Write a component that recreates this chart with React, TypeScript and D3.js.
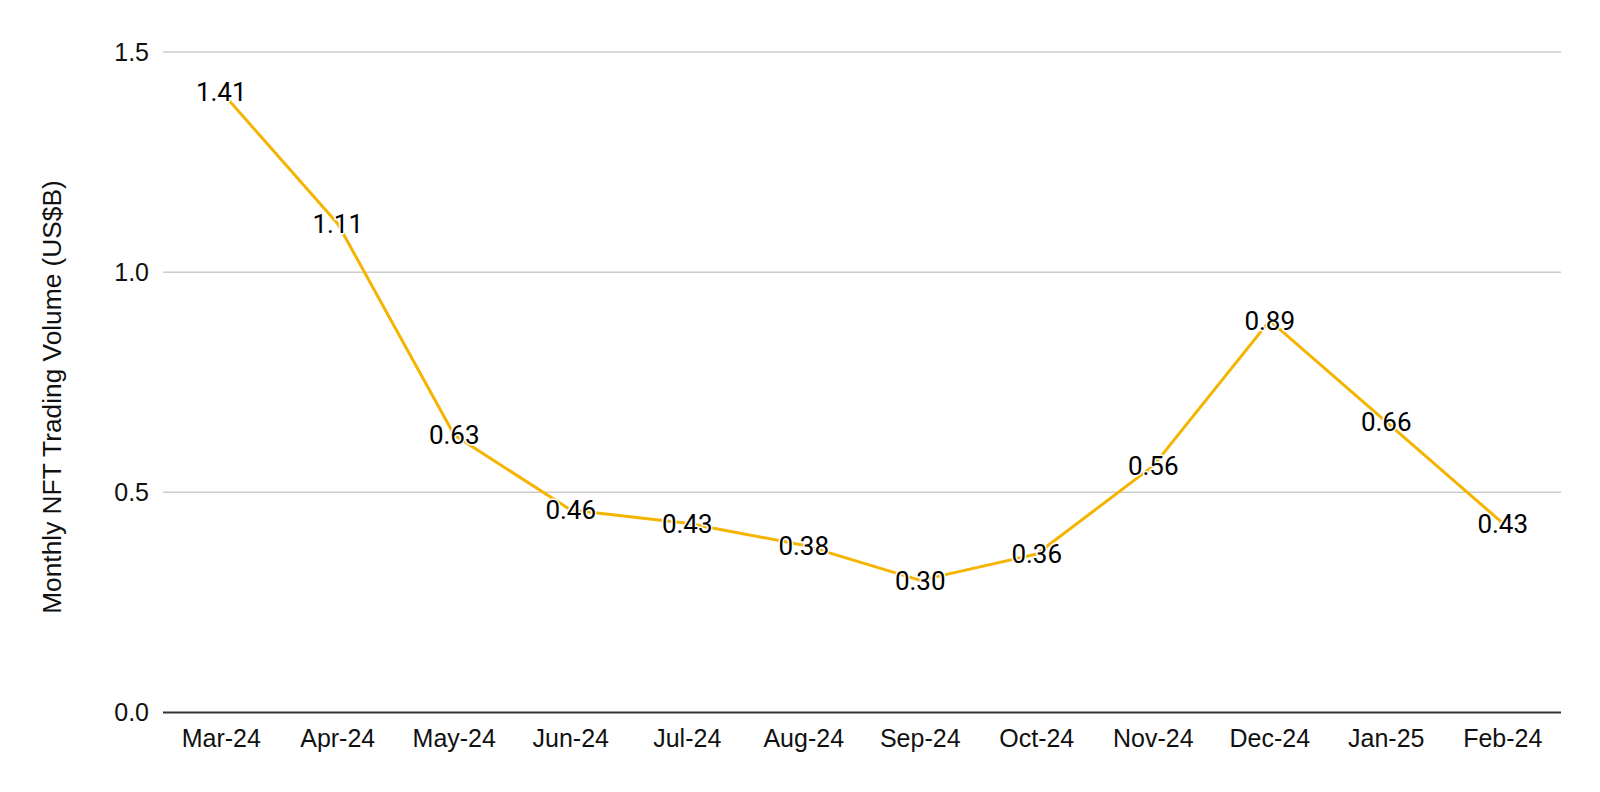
import React from "react";
import * as d3 from "d3";

const months = ["Mar-24", "Apr-24", "May-24", "Jun-24", "Jul-24", "Aug-24", "Sep-24", "Oct-24", "Nov-24", "Dec-24", "Jan-25", "Feb-24"];
const volumes = [1.41, 1.11, 0.63, 0.46, 0.43, 0.38, 0.30, 0.36, 0.56, 0.89, 0.66, 0.43];
const yTicks = [0, 0.5, 1.0, 1.5];
const yTitle = "Monthly NFT Trading Volume (US$B)";

const W = 1600;
const H = 792;
const left = 163;
const right = 1561;
const top = 52;
const bottom = 712.5;

export default function App() {
  const x = d3.scalePoint<string>().domain(months).range([left, right]).padding(0.5);
  const y = d3.scaleLinear().domain([0, 1.5]).range([bottom, top]);
  const line = d3
    .line<number>()
    .x((_, i) => x(months[i]) as number)
    .y((d) => y(d));

  return (
    <svg width={W} height={H} style={{ position: "absolute", left: 0, top: 0, background: "#fff" }}>
      <rect x={0} y={0} width={W} height={H} fill="#fff" />
      {yTicks.map((t) =>
        t === 0 ? null : (
          <line key={t} x1={left} x2={right} y1={y(t)} y2={y(t)} stroke="#cccccc" strokeWidth={1.5} />
        )
      )}
      <line x1={left} x2={right} y1={y(0)} y2={y(0)} stroke="#333333" strokeWidth={2} />
      {yTicks.map((t) => (
        <text
          key={"yl" + t}
          x={149}
          y={y(t)}
          dy="0.35em"
          textAnchor="end"
          fontFamily="'Liberation Sans', Arial, sans-serif"
          fontSize={25}
          fill="#111"
        >
          {d3.format(".1f")(t)}
        </text>
      ))}
      {months.map((m) => (
        <text
          key={m}
          x={x(m) as number}
          y={747}
          textAnchor="middle"
          fontFamily="'Liberation Sans', Arial, sans-serif"
          fontSize={25}
          fill="#111"
        >
          {m}
        </text>
      ))}
      <text
        transform={`translate(52,397) rotate(-90)`}
        textAnchor="middle"
        dy="0.35em"
        fontFamily="'Liberation Sans', Arial, sans-serif"
        fontSize={26.3}
        fill="#111"
      >
        {yTitle}
      </text>
      <path d={line(volumes) || ""} fill="none" stroke="#F4B400" strokeWidth={3} strokeLinejoin="round" />
      {volumes.map((v, i) => (
        <text
          key={"dl" + i}
          x={x(months[i]) as number}
          y={y(v)}
          dy="0.36em"
          textAnchor="middle"
          fontFamily="Roboto, sans-serif"
          fontSize={26}
          fill="#000"
          stroke="#fff"
          strokeWidth={3}
          paintOrder="stroke"
          strokeLinejoin="round"
        >
          {v.toFixed(2)}
        </text>
      ))}
    </svg>
  );
}
